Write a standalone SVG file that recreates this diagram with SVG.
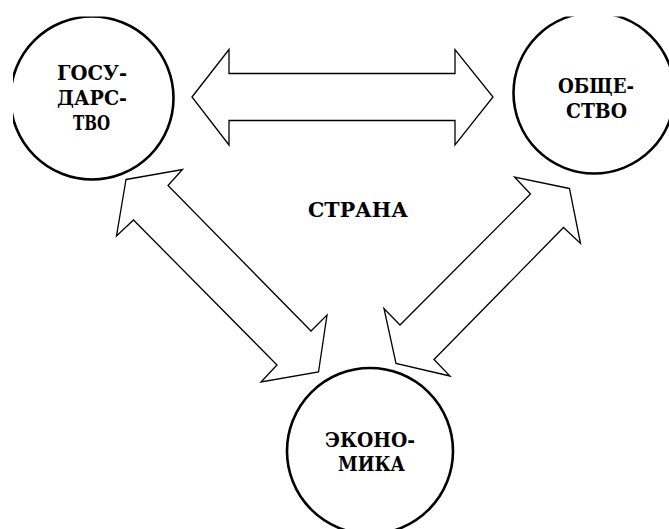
<svg xmlns="http://www.w3.org/2000/svg" width="669" height="529" viewBox="0 0 669 529">
<style>
.node circle{fill:#fff;stroke:#000;stroke-width:2.6}
.t{font-family:'DejaVu Serif','Liberation Serif',serif;font-weight:700;font-size:21px;fill:#000;text-anchor:middle}
.conn polygon{fill:#fff;stroke:#000;stroke-width:1.3;stroke-linejoin:miter}
</style>
<defs>
<clipPath id="page"><rect x="13" y="16.5" width="656" height="513"/></clipPath>
</defs>
<rect width="669" height="529" fill="#fff"/>
<g class="conn" id="connectors">
<polygon points="192,97 229,49.5 229,73.5 455,73.5 455,49.5 493,97 455,145 455,120.5 229,120.5 229,145"/>
<polygon points="126,179.5 182.5,169.5 168,185.5 311,331 327,315 318.5,372 261,382 277,365 133.5,220 116.5,236"/>
<polygon points="569.5,188.5 514.5,177 530.5,194 400,325 384,308.5 396,363.5 450,376 434,359.5 563.5,227.5 580.5,243.5"/>
</g>
<g class="node" id="gosudarstvo">
<circle cx="92" cy="98" r="81.5" clip-path="url(#page)"/>
<text class="t" x="92" y="79.5" textLength="70" lengthAdjust="spacingAndGlyphs">ГОСУ-</text>
<text class="t" x="92" y="104.5" textLength="70" lengthAdjust="spacingAndGlyphs">ДАРС-</text>
<text class="t" x="91.5" y="129.5" textLength="37" lengthAdjust="spacingAndGlyphs">ТВО</text>
</g>
<g class="node" id="obshchestvo">
<circle cx="594" cy="93" r="80.5" clip-path="url(#page)"/>
<text class="t" x="596" y="92.5" textLength="76" lengthAdjust="spacingAndGlyphs">ОБЩЕ-</text>
<text class="t" x="596.5" y="117.5" textLength="61" lengthAdjust="spacingAndGlyphs">СТВО</text>
</g>
<g class="node" id="ekonomika">
<circle cx="370" cy="451" r="83" clip-path="url(#page)"/>
<text class="t" x="370" y="446.5" textLength="90" lengthAdjust="spacingAndGlyphs">ЭКОНО-</text>
<text class="t" x="371.5" y="470.5" textLength="67" lengthAdjust="spacingAndGlyphs">МИКА</text>
</g>
<g id="strana">
<text class="t" x="358" y="216.5" textLength="100" lengthAdjust="spacingAndGlyphs">СТРАНА</text>
</g>
</svg>
